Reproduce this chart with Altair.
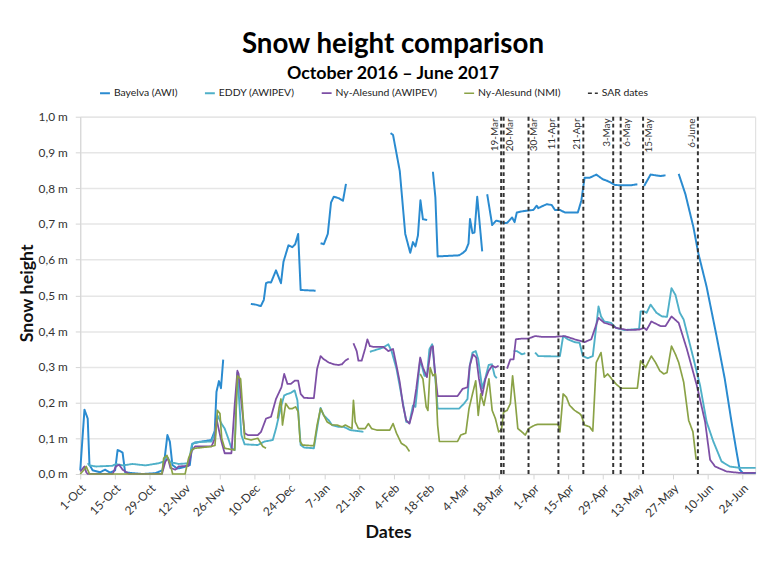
import altair as alt
import pandas as pd

# ---------------- data (day offset from 1-Oct-2016, snow height in m); None = gap
start_date = "2016-10-01"
series_names = ["Bayelva (AWI)", "EDDY (AWIPEV)", "Ny-Alesund (AWIPEV)", "Ny-Alesund (NMI)", "SAR dates"]
series_colors = ["#2a8bd0", "#4fb0c8", "#7d4fa5", "#8aa246", "#333333"]

bayelva = [
    (0, 0.01), (1.7, 0.18), (3, 0.155), (3.7, 0.026), (5, 0.01), (8, 0.005), (10, 0.012), (12, 0.004),
    (14, 0.01), (15, 0.067), (16, 0.064), (17, 0.06), (18, 0.005), (20, 0.003), (25, 0.0), (30, 0.002),
    (33, 0.01), (34, 0.05), (35, 0.109), (36, 0.09), (37, 0.025), (39, 0.015), (42, 0.02), (44, 0.025),
    (45, 0.085), (48, 0.09), (52.6, 0.095), (54, 0.12), (54.7, 0.23), (55.7, 0.26), (56.5, 0.24), (57.4, 0.32),
    None,
    (68.5, 0.476), (70.5, 0.474), (72.5, 0.47), (73.7, 0.487), (74.6, 0.534), (75.6, 0.537), (76.6, 0.536),
    (78.6, 0.57), (80.6, 0.534), (81.6, 0.594), (83.6, 0.64), (85.2, 0.635), (86.3, 0.643), (87.5, 0.672),
    (88.5, 0.515), (94.5, 0.513),
    None,
    (96.5, 0.646), (97.8, 0.643), (99.4, 0.672), (100.7, 0.76), (101.8, 0.776), (103.8, 0.772), (105.5, 0.765),
    (106.7, 0.812),
    None,
    (124.6, 0.954), (125.6, 0.949), (128.3, 0.848), (130.5, 0.672), (132.5, 0.619), (133.6, 0.649),
    (134.6, 0.637), (135.6, 0.668), (136.6, 0.766), (137.6, 0.713), (139.3, 0.711),
    None,
    (141.6, 0.846), (142.6, 0.774), (143.5, 0.609), (152.1, 0.612), (153.7, 0.619), (154.8, 0.626),
    (155.9, 0.645), (156.5, 0.714), (157.5, 0.674), (158.3, 0.676), (159.4, 0.776), (161.4, 0.623),
    None,
    (163.4, 0.783), (165.4, 0.697), (167, 0.709), (168.3, 0.707), (170, 0.702), (171.4, 0.703), (173.4, 0.718),
    (174.4, 0.705), (175.3, 0.732), (177.3, 0.735), (179.3, 0.737), (181.9, 0.739), (183.3, 0.751),
    (183.9, 0.744), (185.3, 0.749), (187.3, 0.755), (189.3, 0.753), (190.6, 0.739), (192.6, 0.739),
    (194.6, 0.732), (199.8, 0.732), (201.2, 0.765), (202.5, 0.829), (204.5, 0.829), (207.2, 0.838),
    (209.8, 0.825), (211.8, 0.82), (214.7, 0.809), (217.1, 0.808), (221.1, 0.808), (223.7, 0.811),
    None,
    (226.4, 0.806), (229, 0.838), (231, 0.836), (233, 0.834), (235, 0.836),
    None,
    (240.3, 0.84), (243, 0.783), (246.2, 0.691), (248.2, 0.617), (251.5, 0.524), (255.5, 0.386),
    (258.8, 0.266), (261.5, 0.146), (263.5, 0.063), (264.8, 0.012), (266.1, 0.003), (271.2, 0.003),
]

eddy = [
    (3, 0.03), (3.7, 0.024), (6.4, 0.021), (13, 0.023), (14.3, 0.028), (17, 0.024), (21, 0.028), (26.2, 0.024),
    (31.5, 0.03), (33.5, 0.035), (34.8, 0.049), (36.2, 0.033), (39.5, 0.028), (43.5, 0.03), (44.8, 0.081),
    (46.1, 0.089), (52.7, 0.091), (53.8, 0.109), (55.1, 0.164), (56.7, 0.141), (58, 0.127), (59.4, 0.1),
    (60.7, 0.072), (62, 0.067), (63.1, 0.284), (64.7, 0.109), (66, 0.083), (71.3, 0.081), (74, 0.091),
    (77.3, 0.095), (78.6, 0.127), (80.6, 0.188), (81.9, 0.22), (83.2, 0.224), (84.5, 0.227), (86.1, 0.234),
    (87.2, 0.206), (88.5, 0.081), (89.9, 0.074), (93.8, 0.072), (95.1, 0.127), (96.5, 0.185), (97.8, 0.164),
    (99.8, 0.15), (101.1, 0.137), (103.8, 0.132), (105.8, 0.132), (108.4, 0.123), (113.7, 0.118),
    None,
    (116.3, 0.342), (121.7, 0.354), (123.7, 0.363), (125, 0.344), (127, 0.294), (129.6, 0.197), (130.9, 0.146),
    (132.2, 0.144), (133.6, 0.192), (134.6, 0.188), (136.5, 0.321), (138.2, 0.275), (139.2, 0.275),
    (140.2, 0.349), (141.3, 0.363), (142.2, 0.303), (143.5, 0.183), (152.1, 0.183), (154.1, 0.197),
    (155.5, 0.21), (156.4, 0.303), (157.5, 0.34), (158.8, 0.344), (159.8, 0.321), (161.4, 0.24),
    (162.7, 0.27), (164, 0.305), (165.3, 0.307), (166.4, 0.275), (167.3, 0.268),
    None,
    (174, 0.344), (175.3, 0.344), (177.3, 0.335), (178.7, 0.338),
    None,
    (182.6, 0.34), (183.9, 0.33), (191.9, 0.329), (192.6, 0.33), (193.9, 0.386), (195.8, 0.377),
    (198.5, 0.369), (200.5, 0.367), (201.8, 0.33), (203.8, 0.324), (205.8, 0.33), (207.2, 0.414),
    (208.1, 0.469), (209.1, 0.441), (210.4, 0.427), (213.1, 0.423), (215.1, 0.409), (218.4, 0.403),
    (224.4, 0.406), (225, 0.455), (226.4, 0.455), (227.4, 0.451), (229, 0.474), (231.4, 0.451),
    (233.6, 0.441), (235.6, 0.44), (237.4, 0.52), (239, 0.501), (240.7, 0.452), (242.3, 0.432),
    (246.3, 0.321), (248.9, 0.247), (251.5, 0.146), (254.2, 0.091), (257.5, 0.035), (260.8, 0.021),
    (264.8, 0.017), (271.2, 0.017),
]

ny_awipev = [
    (0, 0.007), (1.7, 0.021), (2.4, 0.005), (3, 0.0), (13, 0.0), (14.3, 0.021), (15.6, 0.026), (17, 0.012),
    (19.6, 0.0), (32.8, 0.0), (34.2, 0.035), (35.2, 0.044), (36.2, 0.017), (38.2, 0.012), (39.5, 0.021),
    (43.5, 0.023), (44.8, 0.065), (46.1, 0.077), (52.7, 0.077), (54.1, 0.1), (54.7, 0.155), (55.4, 0.132),
    (56.7, 0.091), (58, 0.058), (60.7, 0.058), (62, 0.192), (63.1, 0.289), (63.6, 0.28), (64.7, 0.201),
    (66, 0.114), (67.3, 0.109), (71.3, 0.109), (72.6, 0.118), (74.6, 0.155), (76.6, 0.16), (78.6, 0.21),
    (80.8, 0.243), (81.9, 0.28), (83.2, 0.252), (84.5, 0.252), (86.1, 0.261), (87.5, 0.261), (88.5, 0.224),
    (89.9, 0.213), (93.8, 0.212), (95.1, 0.294), (96.5, 0.33), (97.8, 0.321), (99.8, 0.312), (101.8, 0.307),
    (103.8, 0.305), (105.1, 0.307), (106.4, 0.317), (107.8, 0.323),
    None,
    (109.7, 0.366), (111, 0.344), (111.7, 0.317), (113, 0.317), (114.4, 0.351), (115.3, 0.377), (116.3, 0.358),
    (117.7, 0.356), (121.7, 0.356), (123.7, 0.344), (125.6, 0.35), (127, 0.303), (128.3, 0.257),
    (129.6, 0.192), (130.9, 0.15), (132.2, 0.141), (133.6, 0.178), (134.9, 0.238), (136.5, 0.326),
    (137.6, 0.298), (139.2, 0.271), (140.2, 0.321), (140.9, 0.354), (141.6, 0.358), (142.2, 0.303),
    (143.5, 0.218), (151.5, 0.218), (153.5, 0.238), (155.5, 0.243), (156.4, 0.303), (157.7, 0.335),
    (159, 0.326), (160.1, 0.266), (161.4, 0.22), (162.7, 0.266), (164, 0.289), (165.4, 0.303), (166.7, 0.298),
    (168, 0.303),
    None,
    (171.4, 0.295), (172.7, 0.321), (174, 0.321), (174.9, 0.377), (177.3, 0.379), (180, 0.379), (182.6, 0.386),
    (185.3, 0.384), (190.6, 0.384), (194.6, 0.386), (198.5, 0.377), (202.5, 0.369), (205.2, 0.377),
    (208.1, 0.437), (210.4, 0.423), (213.1, 0.418), (215.1, 0.409), (219.7, 0.403), (224.4, 0.404),
    (226.4, 0.409), (227.4, 0.403), (229.3, 0.427), (233, 0.414), (235, 0.414), (237.4, 0.441),
    (240.3, 0.423), (243.6, 0.349), (247.6, 0.247), (250.9, 0.146), (252.9, 0.04), (254.9, 0.021),
    (259.5, 0.007), (264.8, 0.003), (271.2, 0.003),
]

ny_nmi = [
    (0, 0.0), (1.3, 0.01), (2.4, 0.021), (3.7, 0.0), (32.8, 0.0), (33.5, 0.044), (34.8, 0.052), (36.2, 0.026),
    (37.1, 0.0), (42.1, 0.0), (43.5, 0.044), (44.8, 0.067), (46.1, 0.072), (52.7, 0.077), (54.1, 0.08),
    (55.1, 0.178), (56.1, 0.169), (56.8, 0.1), (58, 0.072), (62, 0.067), (63.1, 0.275), (64.4, 0.266),
    (66, 0.1), (68.6, 0.095), (71.3, 0.1), (73.3, 0.077), (74.6, 0.072),
    None,
    (79.2, 0.155), (79.9, 0.188), (80.6, 0.21), (81.2, 0.137), (82.5, 0.197), (83.9, 0.183), (85.2, 0.183),
    (86.5, 0.188), (87.5, 0.174), (88.3, 0.091), (89.2, 0.081), (93.8, 0.079), (95.1, 0.137), (96.5, 0.183),
    (97.8, 0.164), (99.1, 0.146), (101.1, 0.137), (103.1, 0.137), (105.1, 0.132), (106.4, 0.137),
    (107.8, 0.132), (109.1, 0.127), (109.7, 0.206), (110.4, 0.146), (111.7, 0.127), (114.4, 0.127),
    (115.7, 0.141), (117, 0.127), (119, 0.123), (124.3, 0.123), (125.6, 0.141), (127, 0.114), (128.9, 0.086),
    (130.9, 0.077), (132.2, 0.063),
    None,
    (136.5, 0.28), (137.6, 0.266), (138.9, 0.188), (139.6, 0.178), (140.5, 0.298), (141.6, 0.275),
    (142.6, 0.28), (143.5, 0.137), (144.2, 0.091), (151.5, 0.091), (152.8, 0.109), (154.8, 0.114),
    (156.1, 0.183), (157.5, 0.224), (158.8, 0.261), (159.8, 0.164), (160.8, 0.224), (162.1, 0.192),
    (164.1, 0.266), (165.4, 0.178), (166.7, 0.155), (168, 0.118), (169.1, 0.123), (170, 0.173),
    (171.4, 0.178), (172.7, 0.197), (173.6, 0.275), (174.7, 0.201), (175.7, 0.127), (177.3, 0.118),
    (178.7, 0.109), (180, 0.127), (182.6, 0.137), (183.9, 0.139), (191.9, 0.139), (192.6, 0.118),
    (193.9, 0.224), (195.2, 0.215), (196.5, 0.192), (198.5, 0.178), (200.5, 0.169), (201.2, 0.164),
    (202.5, 0.137), (204.5, 0.132), (205.8, 0.12), (207.2, 0.312), (209.1, 0.34), (210.4, 0.271),
    (211.8, 0.28), (213.4, 0.266), (215.1, 0.252), (217.1, 0.24), (223.7, 0.24), (225, 0.317), (227, 0.298),
    (229.3, 0.33), (231, 0.312), (232.7, 0.289), (234.3, 0.28), (235.6, 0.284), (237.4, 0.358), (239, 0.335),
    (240.3, 0.312), (242.3, 0.257), (244.3, 0.15), (246, 0.118), (247.3, 0.04),
]

sar_dates = ["2017-03-19", "2017-03-20", "2017-03-30", "2017-04-11", "2017-04-21",
             "2017-05-03", "2017-05-06", "2017-05-15", "2017-06-06"]
sar_labels = ["19-Mar", "20-Mar", "30-Mar", "11-Apr", "21-Apr", "3-May", "6-May", "15-May", "6-June"]
sar_label_side = ["left", "right", "right", "left", "left", "left", "right", "right", "left"]

tick_dates = ["2016-10-01", "2016-10-15", "2016-10-29", "2016-11-12", "2016-11-26", "2016-12-10",
              "2016-12-24", "2017-01-07", "2017-01-21", "2017-02-04", "2017-02-18", "2017-03-04",
              "2017-03-18", "2017-04-01", "2017-04-15", "2017-04-29", "2017-05-13", "2017-05-27",
              "2017-06-10", "2017-06-24"]
x_domain = ["2016-10-01", "2017-06-29"]
y_ticks = [0.0, 0.1, 0.2, 0.3, 0.4, 0.5, 0.6, 0.7, 0.8, 0.9, 1.0]

# ---------------- build tables
t0 = pd.Timestamp(start_date)
rows = []
for name, pts in zip(series_names[:4], [bayelva, eddy, ny_awipev, ny_nmi]):
    seg = 0
    for p in pts:
        if p is None:
            seg += 1
            continue
        rows.append({"series": name, "seg": f"{name}-{seg}",
                     "date": (t0 + pd.Timedelta(days=p[0])).strftime("%Y-%m-%dT%H:%M:%S"),
                     "value": p[1]})
lines_df = pd.DataFrame(rows)

sar_df = pd.DataFrame({
    "date": [d + "T00:00:00" for d in sar_dates],
    "label": sar_labels,
    "side": sar_label_side,
    "series": "SAR dates",
})


def dt(s):
    y, m, d = (int(v) for v in s.split("-"))
    return alt.DateTime(year=y, month=m, date=d)


FONT = "Lato"

x_scale = alt.Scale(domain=[dt(x_domain[0]), dt(x_domain[1])])
y_scale = alt.Scale(domain=[0, 1])

color_scale = alt.Scale(domain=series_names, range=series_colors)
dash_scale = alt.Scale(domain=series_names, range=[[1, 0], [1, 0], [1, 0], [1, 0], [4, 3]])

legend = alt.Legend(
    title=None, orient="none", direction="horizontal", columns=5,
    legendX=19, legendY=-30, symbolType="stroke", symbolSize=100, symbolStrokeWidth=2,
    labelFont=FONT, labelFontSize=10.5, labelColor="#222222", labelOffset=3,
    columnPadding=23, padding=0, labelLimit=300,
)

x_axis = alt.Axis(
    values=[dt(d) for d in tick_dates], format="%-d-%b", title="Dates", labelOverlap=False,
    labelAngle=315, labelAlign="right", labelBaseline="middle", labelPadding=7, labelOffset=3,
    labelFont=FONT, labelFontSize=12, labelColor="#333333",
    titleFont=FONT, titleFontSize=18, titleFontWeight="bold", titleColor="#111111",
    titleX=311, titleY=64, titleAnchor="start", titleAlign="center", titleBaseline="alphabetic",
    domainColor="#d4d4d4", tickColor="#d4d4d4", tickSize=5, grid=False,
)

y_axis = alt.Axis(
    values=y_ticks, title="Snow height", labelOverlap=False,
    labelExpr="replace(format(datum.value, '.1f'), '.', ',') + ' m'",
    labelFont=FONT, labelFontSize=12, labelColor="#333333", labelPadding=8,
    titleFont=FONT, titleFontSize=18, titleFontWeight="bold", titleColor="#111111",
    titleX=-44, titleY=178, titleAngle=270, titleAlign="center", titleBaseline="bottom",
    domainColor="#d4d4d4", tickColor="#d4d4d4", tickSize=5,
    grid=True, gridColor="#e6e6e6", gridWidth=1.5,
)

X = alt.X("date:T", scale=x_scale, axis=x_axis)

lines = alt.Chart(lines_df).mark_line(strokeJoin="round").encode(
    x=X,
    y=alt.Y("value:Q", scale=y_scale, axis=y_axis),
    color=alt.Color("series:N", scale=color_scale, legend=legend),
    strokeDash=alt.StrokeDash("series:N", scale=dash_scale, legend=legend),
    strokeWidth=alt.StrokeWidth("series:N", scale=alt.Scale(domain=series_names, range=[2, 1.6, 1.6, 1.6, 2]),
                                legend=None),
    detail="seg:N",
)

rules = alt.Chart(sar_df).mark_rule(strokeWidth=2).encode(
    x=X,
    color=alt.Color("series:N", scale=color_scale, legend=legend),
    strokeDash=alt.StrokeDash("series:N", scale=dash_scale, legend=legend),
)

label_y = alt.YDatum(0.995, type="quantitative", scale=y_scale, axis=y_axis)

labels_left = alt.Chart(sar_df).transform_filter(alt.datum.side == "left").mark_text(
    angle=270, align="right", baseline="line-bottom", font=FONT, fontSize=10, color="#333333"
).encode(x=X, y=label_y, text="label:N")

labels_right = alt.Chart(sar_df).transform_filter(alt.datum.side == "right").mark_text(
    angle=270, align="right", baseline="line-top", font=FONT, fontSize=10, color="#333333"
).encode(x=X, y=label_y, text="label:N")

chart = alt.layer(lines, rules, labels_left, labels_right).properties(
    width=682, height=361,
    autosize=alt.AutoSizeParams(type="none"),
    padding={"left": 73, "top": 107, "right": 16, "bottom": 78},
    title=alt.TitleParams(
        text="Snow height comparison", subtitle="October 2016 \u2013 June 2017",
        anchor="middle", frame="group", dx=-25, offset=4,
        font=FONT, fontSize=28, fontWeight="bold", color="#000000",
        subtitleFont=FONT, subtitleFontSize=18, subtitleFontWeight="bold", subtitleColor="#000000",
        subtitlePadding=6,
    ),
).configure_view(stroke=None).configure(background="white")

chart.save("out.html", embed_options={"renderer": "svg", "actions": False})
